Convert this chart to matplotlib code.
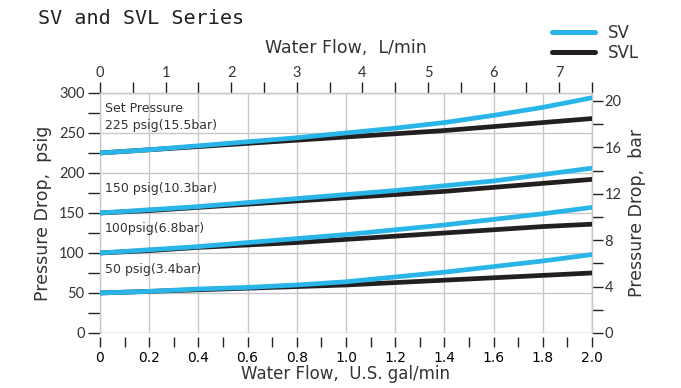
import numpy as np
import matplotlib.pyplot as plt

# flow points, U.S. gal/min
flow_gpm = [0, 0.2, 0.4, 0.6, 0.8, 1.0, 1.2, 1.4, 1.6, 1.8, 2.0]

# pressure drop (psig) for each set pressure
sv_225 = [225, 229, 234, 239, 244, 250, 256, 263, 272, 282, 294]
svl_225 = [225, 229, 233, 237, 241, 245, 249, 253, 258, 263, 268]
sv_150 = [150, 154, 158, 163, 168, 173, 178, 184, 190, 198, 206]
svl_150 = [150, 153, 157, 161, 165, 169, 173, 177, 182, 187, 192]
sv_100 = [100, 104, 108, 113, 118, 123, 129, 135, 142, 149, 157]
svl_100 = [100, 103, 107, 110, 113, 117, 121, 125, 129, 133, 136]
sv_50 = [50, 52, 55, 57, 60, 64, 70, 76, 83, 90, 98]
svl_50 = [50, 52, 54, 56, 58, 60, 63, 66, 69, 72, 75]

set_labels = ["Set Pressure\n225 psig(15.5bar)", "150 psig(10.3bar)",
              "100psig(6.8bar)", "50 psig(3.4bar)"]
label_y = [270, 180, 130, 79]

BLUE = "#29b5e8"
BLACK = "#231f20"
GRID = "#c8c8c8"
TXT = "#333333"
SANS = "Lato"
WIDE = "DejaVu Sans"
MONO = "DejaVu Sans Mono"

L_PER_GAL = 3.75
PSI_PER_BAR = 14.5

fig = plt.figure(figsize=(6.81, 3.88), dpi=100)
ax = fig.add_axes([0.1468, 0.1418, 0.7224, 0.6186])

for svl, sv in [(svl_225, sv_225), (svl_150, sv_150), (svl_100, sv_100), (svl_50, sv_50)]:
    ax.plot(flow_gpm, svl, color=BLACK, lw=3.4, solid_capstyle="round", zorder=3)
    ax.plot(flow_gpm, sv, color=BLUE, lw=3.4, solid_capstyle="round", zorder=4)

for txt, y in zip(set_labels, label_y):
    ax.text(0.02, y, txt, fontsize=9, family=WIDE, color=TXT,
            va="center", ha="left", linespacing=1.4)

ax.set_xlim(0, 2.0)
ax.set_ylim(0, 300)

ax.set_xticks(np.arange(0, 2.01, 0.2))
ax.set_xticks(np.arange(0.1, 2.0, 0.2), minor=True)
ax.set_xticklabels([f"{v:.1f}" if v > 0 else "0" for v in np.arange(0, 2.01, 0.2)],
                   family=MONO, fontsize=10, color=TXT)
ax.set_yticks(np.arange(0, 301, 50))
ax.set_yticks(np.arange(25, 300, 50), minor=True)
ax.set_yticklabels([str(v) for v in range(0, 301, 50)], family=SANS, fontsize=10.5, color=TXT)

ax.grid(True, which="major", color=GRID, lw=1.0)
ax.set_axisbelow(True)

for s in ax.spines.values():
    s.set_color(GRID)
    s.set_linewidth(1.0)
# bottom ticks sit a little below the frame
ax.spines["bottom"].set_position(("outward", 3))
ax.spines["bottom"].set_visible(False)
ax.axhline(0, color=GRID, lw=1.0, zorder=1)

ax.tick_params(axis="x", which="both", direction="out", length=7, width=1,
               color="#222222", pad=3)
ax.tick_params(axis="y", which="both", direction="out", length=9, width=1,
               color="#222222", pad=2)

ax.set_xlabel("Water Flow,  U.S. gal/min", family=WIDE, fontsize=12, color=TXT, labelpad=0)
ax.set_ylabel("Pressure Drop,  psig", family=WIDE, fontsize=12.5, color=TXT, labelpad=5)

# top axis in L/min
top = ax.secondary_xaxis("top", functions=(lambda g: g * L_PER_GAL, lambda l: l / L_PER_GAL))
top.set_xticks(np.arange(0, 7.6, 1))
top.set_xticks(np.arange(0.5, 7.6, 1), minor=True)
top.set_xticklabels([str(v) for v in range(0, 8)], family=SANS, fontsize=10.5, color=TXT)
top.tick_params(which="both", direction="out", length=8, width=1, color="#222222", pad=1)
top.spines["top"].set_color(GRID)
top.set_xlabel("Water Flow,  L/min", family=WIDE, fontsize=12.5, color=TXT, labelpad=10)

# right axis in bar
right = ax.secondary_yaxis("right", functions=(lambda p: p / PSI_PER_BAR, lambda b: b * PSI_PER_BAR))
right.set_yticks(np.arange(0, 21, 4))
right.set_yticks(np.arange(2, 21, 4), minor=True)
right.set_yticklabels([str(v) for v in range(0, 21, 4)], family=SANS, fontsize=10.5, color=TXT)
right.tick_params(which="both", direction="out", length=8, width=1, color="#222222", pad=1)
right.spines["right"].set_color(GRID)
right.set_ylabel("Pressure Drop,  bar", family=WIDE, fontsize=12.5, color=TXT, labelpad=5)

fig.text(0.056, 0.952, "SV and SVL Series", family=MONO, fontsize=14.5,
         va="center", ha="left", color="#222222")

h_sv, = ax.plot([], [], color=BLUE, lw=3.6, solid_capstyle="round")
h_svl, = ax.plot([], [], color=BLACK, lw=3.6, solid_capstyle="round")
leg = ax.legend([h_sv, h_svl], ["SV", "SVL"], loc="upper right",
                bbox_to_anchor=(0.951, 0.96), bbox_transform=fig.transFigure,
                frameon=False, handlelength=2.6, handletextpad=0.8,
                labelspacing=0.1, borderpad=0, prop={"family": WIDE, "size": 12})
for t in leg.get_texts():
    t.set_color(TXT)

fig.savefig("out.png", dpi=100)
